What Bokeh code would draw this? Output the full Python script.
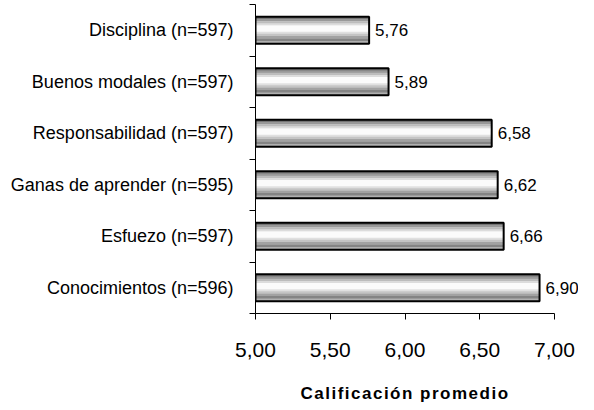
from bokeh.plotting import figure
from bokeh.models import ColumnDataSource, Range1d, FixedTicker, CustomJSTickFormatter, Div
from bokeh.layouts import column
from bokeh.transform import dodge
from bokeh.core.properties import value
from bokeh.embed import file_html
from bokeh.resources import INLINE

# ---- data (top to bottom) ----
categories = ["Disciplina (n=597)", "Buenos modales (n=597)", "Responsabilidad (n=597)",
              "Ganas de aprender (n=595)", "Esfuezo (n=597)", "Conocimientos (n=596)"]
scores = [5.76, 5.89, 6.58, 6.62, 6.66, 6.90]
x_ticks = [5.0, 5.5, 6.0, 6.5, 7.0]
x_title = "Calificación promedio"

ypos = [i + 0.5 for i in range(len(categories))]
labels = [f"{v:.2f}".replace(".", ",") for v in scores]
src = ColumnDataSource(dict(y=ypos, value=scores, label=labels, cat=categories))

W, H = 578, 376
LEFT = 255
SCALE = 149.5
fig = figure(width=W, height=H, output_backend="svg", toolbar_location=None,
             x_range=Range1d(5.0, 5.0 + (W - LEFT) / SCALE),
             y_range=Range1d(len(categories), 0),
             min_border_left=LEFT, min_border_right=0, min_border_top=4, min_border_bottom=63)
fig.outline_line_color = None
fig.xgrid.grid_line_color = None
fig.ygrid.grid_line_color = None
fig.background_fill_color = "white"

bar_h = 0.52
bands = [(0.00, 0.09, "#767676"), (0.09, 0.17, "#999999"), (0.17, 0.25, "#bcbcbc"),
         (0.25, 0.33, "#dcdcdc"), (0.33, 0.56, "#fbfbfb"), (0.56, 0.64, "#e0e0e0"),
         (0.64, 0.72, "#c4c4c4"), (0.72, 0.81, "#a2a2a2"), (0.81, 0.91, "#848484"),
         (0.91, 1.00, "#b0b0b0")]
for s, e, c in bands:
    off = -bar_h / 2 + (s + e) / 2 * bar_h
    fig.hbar(y=dodge("y", off, range=fig.y_range), left=5.0, right="value",
             height=(e - s) * bar_h + 0.006, source=src, fill_color=c, line_color=None)
fig.hbar(y="y", left=5.0, right="value", height=bar_h, source=src,
         fill_color=None, line_color="black", line_width=2)

fig.text(x="value", y="y", text="label", source=src, x_offset=6, text_baseline="middle",
         text_align="left", text_font=value("Liberation Sans"), text_font_size="17px",
         text_color="black")

# x axis
xa = fig.xaxis[0]
xa.ticker = FixedTicker(ticks=x_ticks, minor_ticks=[])
xa.bounds = (x_ticks[0], x_ticks[-1])
xa.formatter = CustomJSTickFormatter(code="return tick.toFixed(2).replace('.', ',');")
xa.major_tick_out = 6
xa.major_tick_in = 0
xa.minor_tick_out = 0
xa.minor_tick_in = 0
xa.major_label_standoff = 23
xa.major_label_text_font = "Liberation Sans"
xa.major_label_text_font_size = "21px"
xa.major_label_text_color = "black"
xa.axis_line_color = "black"
xa.major_tick_line_color = "black"

# y axis
ya = fig.yaxis[0]
ya.ticker = FixedTicker(ticks=ypos, minor_ticks=[float(i) for i in range(len(categories) + 1)])
ya.major_label_overrides = {y: c for y, c in zip(ypos, categories)}
ya.major_tick_out = 0
ya.major_tick_in = 0
ya.minor_tick_out = 6
ya.minor_tick_in = 0
ya.major_label_standoff = 16
ya.major_label_text_font = "Liberation Sans"
ya.major_label_text_font_size = "18px"
ya.major_label_text_color = "black"
ya.axis_line_color = "black"
ya.minor_tick_line_color = "black"

# x-axis title, centred under the axis span
title = Div(text=(f'<div style="position:relative;top:9px;margin-left:222px;width:366px;'
                  f'text-align:center;font-family:\'Liberation Sans\';font-weight:bold;'
                  f'font-size:17px;letter-spacing:1.5px;line-height:18px;color:black;">'
                  f'{x_title}</div>'),
            width=W, height=18, margin=0)

p = column(fig, title, spacing=0)
open("out.html", "w").write(file_html(p, INLINE))
